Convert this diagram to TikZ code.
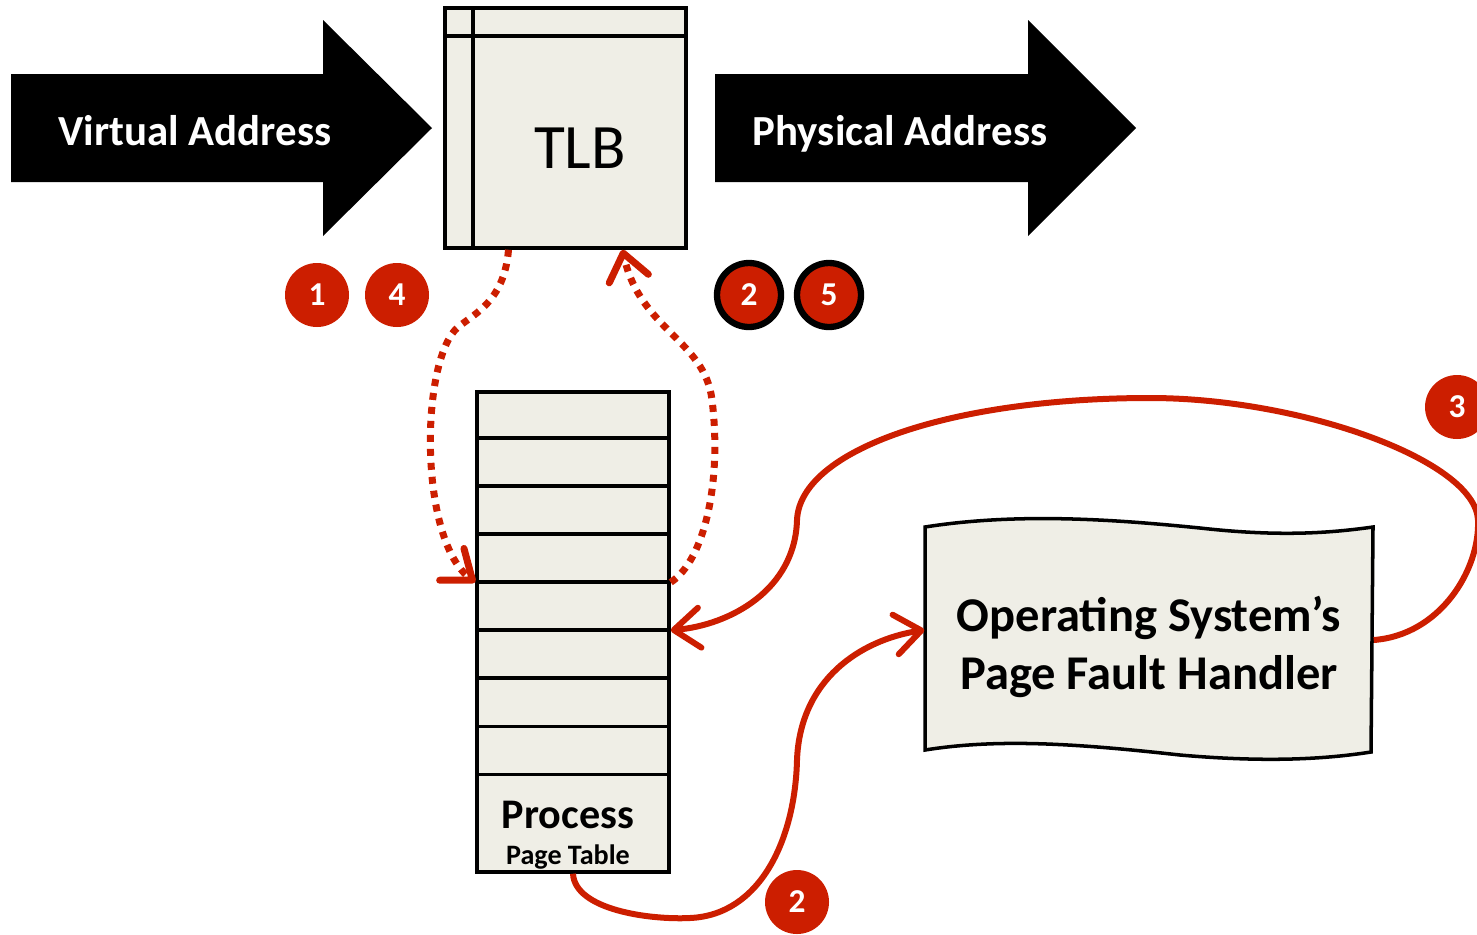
\documentclass[tikz,border=0pt]{standalone}
\usepackage{fontspec}
\setmainfont{Carlito}
\usetikzlibrary{arrows.meta,positioning}
\definecolor{pfred}{RGB}{204,30,0}
\definecolor{pfbeige}{RGB}{239,238,230}

\begin{document}
\begin{tikzpicture}[x=0.1mm,y=-0.1mm,
  box/.style={draw, line width=1pt, fill=pfbeige, inner sep=0pt},
  badge/.style={circle, fill=pfred, text=white, font=\fontsize{9.5}{10}\selectfont\bfseries, minimum size=6.4mm, inner sep=0pt},
  ringbadge/.style={badge, draw=black, line width=1.8pt},
  walk/.style={pfred, line width=0.7mm, dash pattern=on 0.7mm off 0.7mm},
  fault/.style={pfred, line width=0.6mm},
  tip/.style={-{Straight Barb[round,length=2.6mm,width=4mm]}}]
  \useasboundingbox (0,0) rectangle (1477,934);

  % Address arrows
  \fill (11,74) -- (323,74) -- (323,20) -- (432,128) -- (323,236) -- (323,182) -- (11,182) -- cycle;
  \node[font=\fontsize{12.2}{15}\selectfont\bfseries, white, anchor=base] (va) at (195,145) {Virtual Address};
  \fill (715,74) -- (1028,74) -- (1028,20) -- (1136,128) -- (1028,236) -- (1028,182) -- (715,182) -- cycle;
  \node[font=\fontsize{12.2}{15}\selectfont\bfseries, white, anchor=base] (pa) at (900,145) {Physical Address};

  % TLB
  \node[box, minimum width=24.1mm, minimum height=24mm] (tlb) at (565.5,128) {};
  \draw[line width=1pt] ([xshift=3mm]tlb.north west) -- ([xshift=3mm]tlb.south west);
  \draw[line width=1pt] ([yshift=-3mm]tlb.north west) -- ([yshift=-3mm]tlb.north east);
  \node[font=\fontsize{18}{21}\selectfont] (tlbname) at (580,148) {TLB};

  % Step badges
  \node[badge] (s1) at (317,295) {1};
  \node[badge] (s4) at (397,295) {4};
  \node[ringbadge] (s2) at (749,295) {2};
  \node[ringbadge] (s5) at (829,295) {5};
  \node[badge] (s3) at (1457,407) {3};
  \node[badge] (s2b) at (797,902) {2};

  % Process page table
  \node[box, minimum width=19.2mm, minimum height=48mm] (pt) at (573,632) {};
  \foreach \i in {1,...,8}
    \draw[line width=1pt] ([yshift=-\i*4.8mm]pt.north west) coordinate (l\i) -- ([yshift=-\i*4.8mm]pt.north east) coordinate (r\i);
  \node[font=\fontsize{12}{14}\selectfont\bfseries] (ptname) at (568,815) {Process};
  \node[font=\fontsize{8}{10}\selectfont\bfseries] (ptsub) at (568,857) {Page Table};

  % Page fault handler
  \filldraw[fill=pfbeige, line width=1pt] (925,527) .. controls (1020,512) and (1120,520) .. (1200,528)
    .. controls (1280,537) and (1330,533) .. (1373,527) -- (1371,752)
    .. controls (1320,760) and (1260,762) .. (1180,755)
    .. controls (1080,744) and (1000,738) .. (925,750) -- cycle;
  \node[font=\fontsize{13.8}{16.6}\selectfont\bfseries, align=center, minimum width=44.8mm, minimum height=22.4mm] (osh) at (1149,647) {Operating System’s\\Page Fault Handler};

  % TLB walk
  \draw[walk, tip] ([xshift=-5.7mm]tlb.south) .. controls (504,305) and (470,315) .. (455,330)
    .. controls (420,370) and (420,540) .. (l4);
  \draw[walk, tip] (r4) .. controls (705,560) and (722,480) .. (712,400)
    .. controls (705,340) and (640,330) .. ([xshift=5.7mm]tlb.south);

  % Fault path
  \draw[fault, tip] (pt.south) .. controls (575,910) and (650,920) .. (690,918)
    .. controls (760,915) and (795,840) .. (797,760)
    .. controls (800,680) and (860,640) .. ([yshift=1.7mm]osh.west);
  \draw[fault, tip] ([yshift=0.7mm]osh.east) .. controls (1440,635) and (1480,570) .. (1478,520)
    .. controls (1475,460) and (1300,398) .. (1150,398)
    .. controls (950,398) and (800,450) .. (797,520)
    .. controls (795,590) and (730,625) .. (r5);
\end{tikzpicture}
\end{document}
